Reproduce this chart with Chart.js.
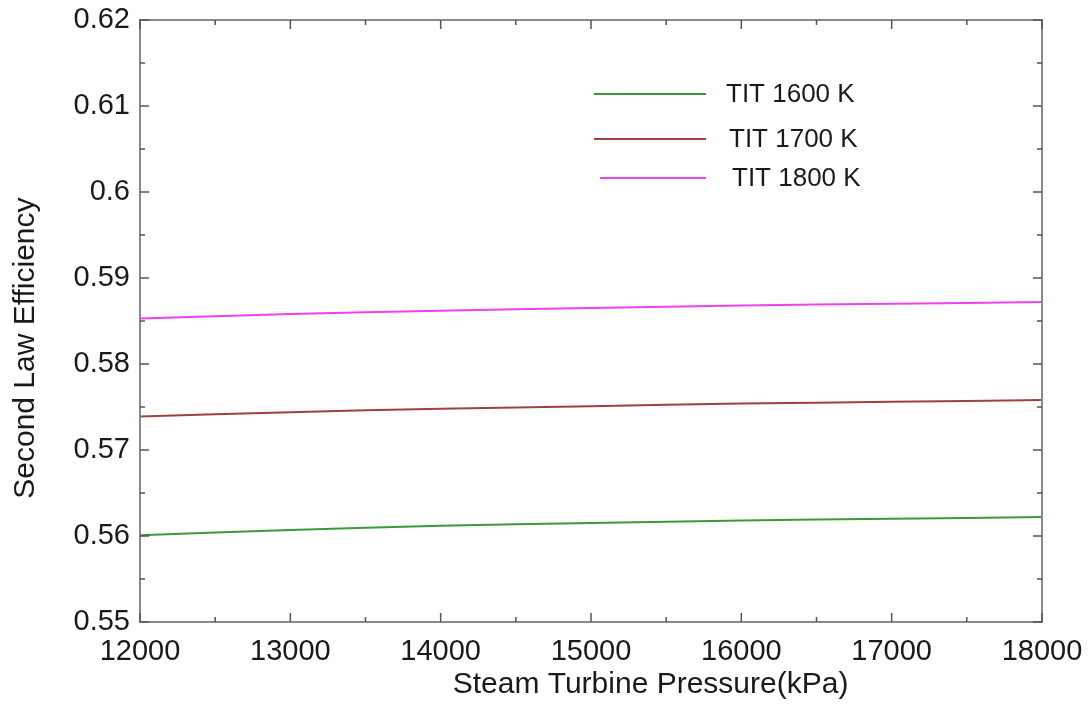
<!DOCTYPE html>
<html>
<head>
<meta charset="utf-8">
<script src="https://cdn.jsdelivr.net/npm/chart.js@4"></script>
<style>
  html, body { margin: 0; padding: 0; background: #fff; }
  #wrap { width: 1088px; height: 705px; position: relative; }
</style>
</head>
<body>
<div id="wrap"><canvas id="myChart"></canvas></div>
<script>
// Steam turbine pressure (kPa)
const pressures = [12000, 13000, 14000, 15000, 16000, 17000, 18000];

// Second law efficiency per turbine inlet temperature
const tit1600 = [0.5601, 0.5607, 0.5612, 0.5615, 0.5618, 0.5620, 0.5622];
const tit1700 = [0.5739, 0.5744, 0.5748, 0.5751, 0.5754, 0.5756, 0.5758];
const tit1800 = [0.5853, 0.5858, 0.5862, 0.5865, 0.5868, 0.5870, 0.5872];

const seriesNames = ['TIT 1600 K', 'TIT 1700 K', 'TIT 1800 K'];
const seriesColors = ['#3a9a3a', '#a04040', '#f040f0'];

const yTicks = [0.55, 0.56, 0.57, 0.58, 0.59, 0.6, 0.61, 0.62];
const xTicks = [12000, 13000, 14000, 15000, 16000, 17000, 18000];

const xTitle = 'Steam Turbine Pressure(kPa)';
const yTitle = 'Second Law Efficiency';

const FONT = '"Liberation Sans", Arial, sans-serif';
const AXIS_COLOR = '#8a8a8a';
const TEXT_COLOR = '#1a1a1a';

function toPoints(vals) {
    return pressures.map((p, i) => ({ x: p, y: vals[i] }));
}

// box + inward ticks (major and minor) on all four sides
const frameTicks = {
    id: 'frameTicks',
    afterDraw(chart) {
        const ctx = chart.ctx;
        const { left, right, top, bottom } = chart.chartArea;
        const xs = chart.scales.x, ys = chart.scales.y;
        ctx.save();
        ctx.strokeStyle = AXIS_COLOR;
        ctx.lineWidth = 2;
        ctx.strokeRect(left, top, right - left, bottom - top);

        ctx.strokeStyle = '#555';
        ctx.lineWidth = 1.5;
        ctx.beginPath();
        for (let i = 0; i < xTicks.length; i++) {
            const px = xs.getPixelForValue(xTicks[i]);
            ctx.moveTo(px, bottom); ctx.lineTo(px, bottom - 9);
            ctx.moveTo(px, top); ctx.lineTo(px, top + 9);
            if (i < xTicks.length - 1) {
                const mx = xs.getPixelForValue((xTicks[i] + xTicks[i + 1]) / 2);
                ctx.moveTo(mx, bottom); ctx.lineTo(mx, bottom - 5);
                ctx.moveTo(mx, top); ctx.lineTo(mx, top + 5);
            }
        }
        for (let i = 0; i < yTicks.length; i++) {
            const py = ys.getPixelForValue(yTicks[i]);
            ctx.moveTo(left, py); ctx.lineTo(left + 9, py);
            ctx.moveTo(right, py); ctx.lineTo(right - 9, py);
            if (i < yTicks.length - 1) {
                const my = ys.getPixelForValue((yTicks[i] + yTicks[i + 1]) / 2);
                ctx.moveTo(left, my); ctx.lineTo(left + 5, my);
                ctx.moveTo(right, my); ctx.lineTo(right - 5, my);
            }
        }
        ctx.stroke();
        ctx.restore();
    }
};

// axis titles, placed a bit off-centre like the original figure
const axisTitles = {
    id: 'axisTitles',
    afterDraw(chart) {
        const ctx = chart.ctx;
        const { left, right, top, bottom } = chart.chartArea;
        ctx.save();
        ctx.fillStyle = TEXT_COLOR;
        ctx.font = '30px ' + FONT;
        ctx.textAlign = 'center';
        ctx.textBaseline = 'middle';
        ctx.fillText(xTitle, left + (right - left) * 0.566, bottom + 63);
        ctx.translate(26, top + (bottom - top) * 0.545);
        ctx.rotate(-Math.PI / 2);
        ctx.fillText(yTitle, 0, 0);
        ctx.restore();
    }
};

// legend floating inside the plot, upper right
const floatLegend = {
    id: 'floatLegend',
    afterDraw(chart) {
        const ctx = chart.ctx;
        const rows = [94, 139, 178];
        ctx.save();
        ctx.font = '26px ' + FONT;
        ctx.textBaseline = 'middle';
        chart.data.datasets.forEach((ds, i) => {
            const y = rows[i];
            ctx.strokeStyle = ds.borderColor;
            ctx.lineWidth = 2;
            ctx.beginPath();
            ctx.moveTo(594 + (i === 2 ? 6 : 0), y); ctx.lineTo(706, y);
            ctx.stroke();
            ctx.fillStyle = TEXT_COLOR;
            ctx.fillText(ds.label, 726 + i * 3, y + 1);
        });
        ctx.restore();
    }
};

const ctx = document.getElementById('myChart').getContext('2d');
const chart = new Chart(ctx, {
    type: 'line',
    data: {
        datasets: [tit1600, tit1700, tit1800].map((vals, i) => ({
            label: seriesNames[i],
            data: toPoints(vals),
            borderColor: seriesColors[i],
            backgroundColor: seriesColors[i],
            borderWidth: 2,
            pointRadius: 0,
            tension: 0.3,
            fill: false
        }))
    },
    options: {
        responsive: true,
        maintainAspectRatio: false,
        animation: false,
        layout: { padding: { top: 20, right: 46, left: 0, bottom: 0 } },
        plugins: {
            legend: { display: false },
            tooltip: { enabled: false }
        },
        scales: {
            x: {
                type: 'linear',
                min: 12000,
                max: 18000,
                afterFit(scale) {
                    scale.height = 83;
                    scale.paddingLeft = 0;
                    scale.paddingRight = 0;
                },
                afterBuildTicks(scale) { scale.ticks = xTicks.map(v => ({ value: v })); },
                grid: { display: false, drawTicks: false },
                border: { display: false },
                ticks: {
                    padding: 13,
                    color: TEXT_COLOR,
                    font: { family: FONT, size: 29 },
                    maxRotation: 0,
                    callback: v => String(v)
                },
                title: { display: false }
            },
            y: {
                type: 'linear',
                min: 0.55,
                max: 0.62,
                afterFit(scale) {
                    scale.width = 140;
                    scale.paddingTop = 0;
                    scale.paddingBottom = 0;
                },
                afterBuildTicks(scale) { scale.ticks = yTicks.map(v => ({ value: v })); },
                grid: { display: false, drawTicks: false },
                border: { display: false },
                ticks: {
                    padding: 10,
                    color: TEXT_COLOR,
                    font: { family: FONT, size: 29 },
                    callback: v => String(Number(v.toFixed(2)))
                },
                title: { display: false }
            }
        }
    },
    plugins: [frameTicks, axisTitles, floatLegend]
});
</script>
</body>
</html>
